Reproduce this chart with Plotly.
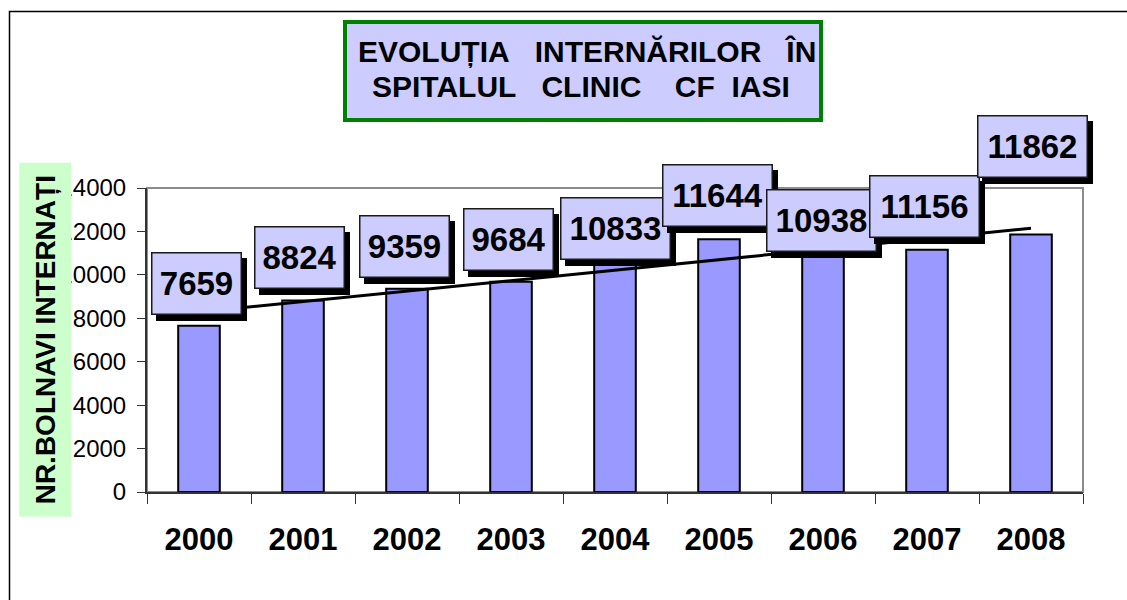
import numpy as np
import plotly.graph_objects as go

# ---- data ----
years = ["2000", "2001", "2002", "2003", "2004", "2005", "2006", "2007", "2008"]
patients = [7659, 8824, 9359, 9684, 10833, 11644, 10938, 11156, 11862]
y_ticks = [0, 2000, 4000, 6000, 8000, 10000, 12000, 14000]
title_lines = ["EVOLUȚIA   INTERNĂRILOR   ÎN", "SPITALUL   CLINIC    CF  IASI"]
y_title = "NR.BOLNAVI INTERNAȚI"

# ---- label nudges (pixels, styling only) ----
label_dx = [-3, -4, -3, -3, 0, -2, -2, -3, 1]
label_dy = [11, 11, 11, 11, -3, 12, 2, 12, 56]

FONT = "Arial, Liberation Sans, sans-serif"

# linear trend line fitted to the data
idx = np.arange(len(patients))
slope, intercept = np.polyfit(idx, patients, 1)
trend = slope * idx + intercept

fig = go.Figure()
fig.add_trace(go.Bar(
    x=years, y=patients, width=0.4,
    marker=dict(color="#9999FF", line=dict(color="#000000", width=2)),
    showlegend=False, hoverinfo="x+y",
))
fig.add_trace(go.Scatter(
    x=years, y=trend, mode="lines",
    line=dict(color="#000000", width=3), showlegend=False, hoverinfo="skip",
))

# plot area geometry in pixels
L, R, T, B = 147, 44, 188, 108
W, H = 1127 - L - R, 600 - T - B


def px_to_paper_x(px):
    return (px - L) / W


def px_to_paper_y(py):
    return (600 - B - py) / H


annotations = []
nbsp = lambda s: s.replace(" ", "\u00a0")

# data labels with drop shadow
for i, v in enumerate(patients):
    txt = str(v)
    w = 88 if len(txt) == 4 else 108
    common = dict(x=i, y=v, xref="x", yref="y", xanchor="center", yanchor="bottom",
                  showarrow=False, width=w, height=60, borderpad=0, borderwidth=1.5,
                  font=dict(family=FONT, size=33, color="#000000"))
    annotations.append(dict(common, text=" ", bgcolor="#000000", bordercolor="#000000",
                            xshift=label_dx[i] + 5, yshift=label_dy[i] - 6))
    annotations.append(dict(common, text="<b>%s</b>" % txt, bgcolor="#CCCCFF",
                            bordercolor="#1a1a1a",
                            xshift=label_dx[i], yshift=label_dy[i]))

# title box
annotations.append(dict(
    x=px_to_paper_x(583.3), y=px_to_paper_y(70.8), xref="paper", yref="paper",
    xanchor="center", yanchor="middle", showarrow=False, text=" ",
    width=472, height=94, borderpad=0, borderwidth=4,
    bgcolor="#CCCCFF", bordercolor="#008000",
))
for line, cx, cy in zip(title_lines, [587, 581], [51.7, 86.7]):
    annotations.append(dict(
        x=px_to_paper_x(cx), y=px_to_paper_y(cy), xref="paper", yref="paper",
        xanchor="center", yanchor="middle", showarrow=False,
        text="<b>%s</b>" % nbsp(line),
        font=dict(family=FONT, size=30, color="#000000"),
    ))

# y-axis title box (green background, drawn over the leading tick digits)
annotations.append(dict(
    x=px_to_paper_x(45), y=px_to_paper_y(339.7), xref="paper", yref="paper",
    xanchor="center", yanchor="middle", showarrow=False, textangle=-90,
    text="<b>%s</b>" % y_title, width=354, height=52, borderpad=0, borderwidth=0,
    bgcolor="#CCFFCC",
    font=dict(family=FONT, size=28, color="#000000"),
))

shapes = [
    # gray plot-area frame (top/right visible)
    dict(type="rect", xref="paper", yref="paper", x0=0, x1=1, y0=0, y1=1,
         line=dict(color="#8c8c8c", width=2), layer="below"),
    # outer chart border
    dict(type="rect", xref="paper", yref="paper",
         x0=px_to_paper_x(9.5), y0=px_to_paper_y(11.5),
         x1=px_to_paper_x(1140), y1=px_to_paper_y(620),
         line=dict(color="#000000", width=1.5)),
]

fig.update_layout(
    width=1127, height=600,
    margin=dict(l=L, r=R, t=T, b=B),
    paper_bgcolor="#FFFFFF", plot_bgcolor="#FFFFFF",
    font=dict(family=FONT, color="#000000"),
    annotations=annotations, shapes=shapes,
    bargap=0.6,
    xaxis=dict(
        type="category", range=[-0.5, 8.5], tickson="boundaries",
        ticks="outside", ticklen=10, tickwidth=1.2, tickcolor="#333333",
        showline=True, linecolor="#333333", linewidth=2,
        showgrid=False, zeroline=False, ticklabelstandoff=19,
        tickfont=dict(family=FONT, size=31, color="#000000", weight="bold"),
    ),
    yaxis=dict(
        range=[0, 14000], tickvals=y_ticks, ticktext=[str(t) for t in y_ticks],
        ticks="outside", ticklen=8, tickwidth=1.2, tickcolor="#333333",
        showline=True, linecolor="#333333", linewidth=2,
        showgrid=False, zeroline=False, ticklabelstandoff=6,
        tickfont=dict(family=FONT, size=24, color="#000000"),
    ),
)

fig.write_html("out.html", config={"displayModeBar": False},
               post_script="document.body.style.margin='0px';")
